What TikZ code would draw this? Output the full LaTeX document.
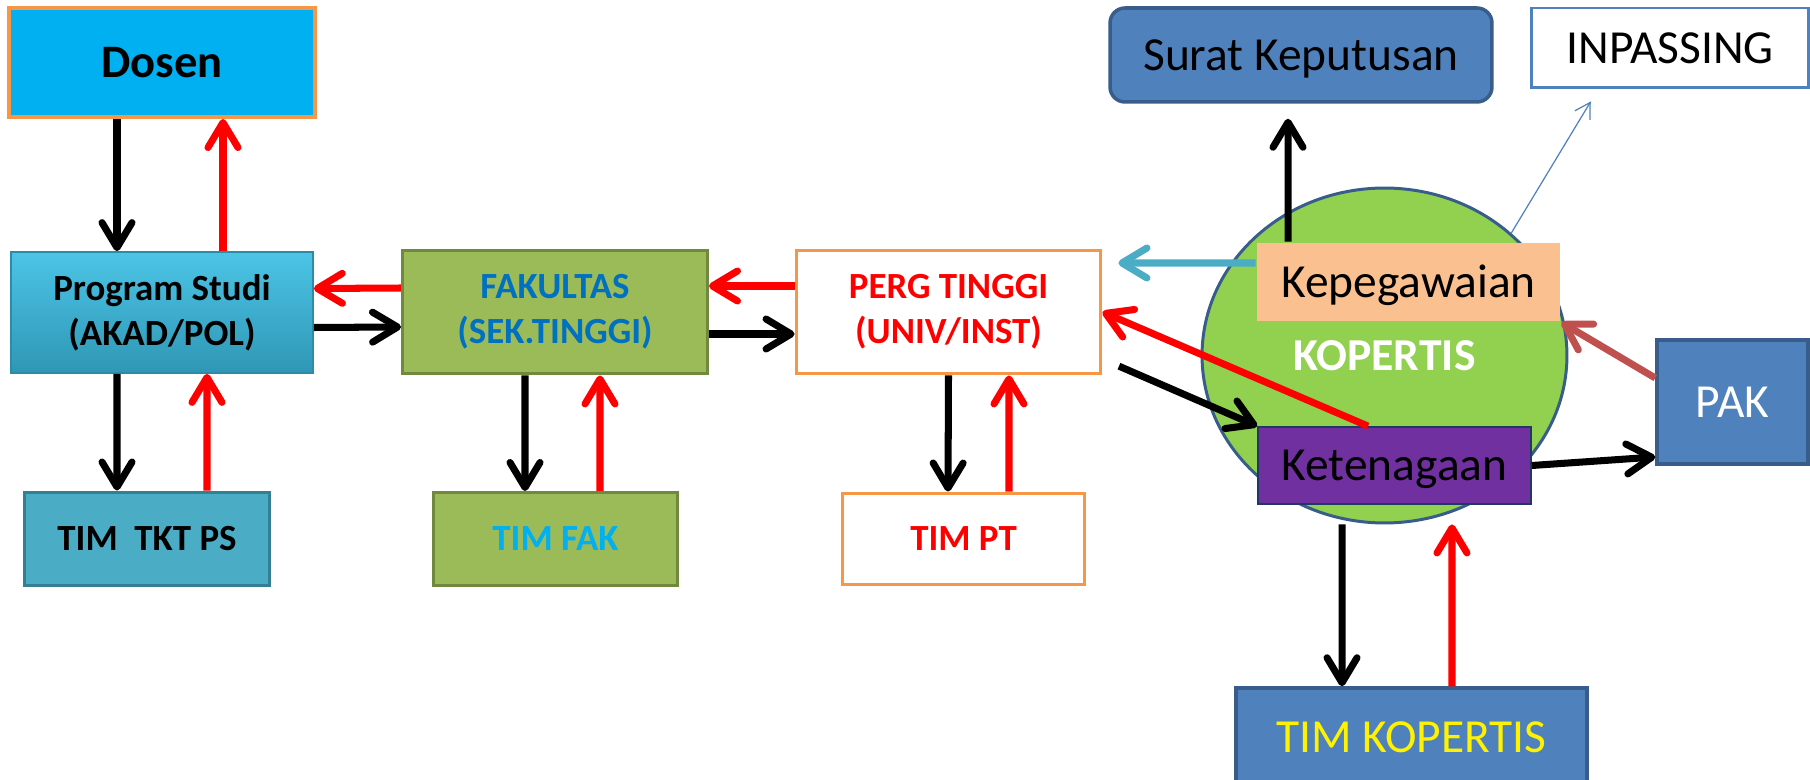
\documentclass[tikz,border=0pt]{standalone}
\usepackage{fontspec}
\setmainfont{Carlito}
\usetikzlibrary{arrows.meta,shapes.geometric,shadings}

\definecolor{orangeline}{HTML}{F79646}
\definecolor{dosenblue}{HTML}{00B0F0}
\definecolor{proditop}{HTML}{4CC4E6}
\definecolor{prodibot}{HTML}{2F97B5}
\definecolor{prodiline}{HTML}{2C8CA8}
\definecolor{timpsfill}{HTML}{4BACC6}
\definecolor{timpsline}{HTML}{357F93}
\definecolor{fakfill}{HTML}{9BBB59}
\definecolor{fakline}{HTML}{71893F}
\definecolor{fakblue}{HTML}{0070C0}
\definecolor{kopblue}{HTML}{4F81BD}
\definecolor{kopline}{HTML}{385D8A}
\definecolor{kopgreen}{HTML}{92D050}
\definecolor{peach}{HTML}{FAC090}
\definecolor{ketpurple}{HTML}{7030A0}
\definecolor{ketline}{HTML}{203864}
\definecolor{pakred}{HTML}{C0504D}

\begin{document}
\begin{tikzpicture}[x=0.02cm, y=-0.02cm,
        box/.style={rectangle, draw, line width=1.7pt, inner sep=0pt},
        two/.style={align=center, font=\fontsize{21}{25.6}\selectfont\bfseries},
        small/.style={font=\fontsize{21}{25}\selectfont\bfseries, text height=13.5pt, text depth=0pt},
        big/.style={font=\fontsize{27}{32}\selectfont, text height=17.4pt, text depth=0pt},
        arr/.style={line width=4pt, -{Straight Barb[length=5mm, width=6mm, round]}},
        blk/.style={arr, draw=black},
        rd/.style={arr, draw=red},
        thinarr/.style={draw=kopblue, line width=0.7pt, -{Straight Barb[length=3mm, width=3.5mm]}},
        ]
        \useasboundingbox (0,0) rectangle (1810,780);

        % Left chain: Dosen, Program Studi, Fakultas, Perg Tinggi
        \node[box, draw=orangeline, line width=2.3pt, fill=dosenblue, minimum width=6.12cm, minimum height=2.18cm,
            font=\fontsize{26.5}{30}\selectfont\bfseries, text height=17.1pt, text depth=0pt] (dosen) at (162,62.5) {Dosen};
        \node[box, draw=prodiline, line width=1pt, top color=proditop, bottom color=prodibot,
            minimum width=6.04cm, minimum height=2.42cm, two] (prodi) at (162,312.5) {Program Studi\\(AKAD/POL)};
        \node[box, draw=timpsline, fill=timpsfill, minimum width=4.92cm, minimum height=1.88cm, small] (timps) at (147,539) {TIM\ \ TKT PS};
        \node[box, draw=fakline, fill=fakfill, minimum width=6.1cm, minimum height=2.48cm, two, text=fakblue] (fak) at (555,312) {FAKULTAS\\(SEK.TINGGI)};
        \node[box, draw=fakline, fill=fakfill, minimum width=4.9cm, minimum height=1.86cm, small, text=dosenblue] (timfak) at (555.5,539) {TIM FAK};
        \node[box, draw=orangeline, fill=white, minimum width=6.1cm, minimum height=2.48cm, two, text=red] (pt) at (948.5,312) {PERG TINGGI\\(UNIV/INST)};
        \node[box, draw=orangeline, fill=white, minimum width=4.86cm, minimum height=1.84cm, small, text=red] (timpt) at (963.5,539) {TIM PT};

        % Kopertis side
        \node[box, draw=kopline, line width=2pt, fill=kopblue, rounded corners=0.3cm, minimum width=7.64cm, minimum height=1.88cm, big] (surat) at (1301,55) {Surat Keputusan};
        \node[box, draw=kopblue, fill=white, minimum width=5.56cm, minimum height=1.6cm, big] (inpas) at (1670,48) {INPASSING};
        \node[ellipse, draw=kopline, line width=1.7pt, fill=kopgreen, inner sep=0pt, minimum width=7.3cm, minimum height=6.7cm,
            text=white, font=\fontsize{26}{30}\selectfont\bfseries] (kop) at (1384.5,355.5) {KOPERTIS};
        \node[box, draw=none, fill=peach, minimum width=6.06cm, minimum height=1.56cm, big] (kepeg) at (1408.5,282) {Kepegawaian};
        \node[box, draw=ketline, line width=1pt, fill=ketpurple, minimum width=5.46cm, minimum height=1.54cm, big] (keten) at (1394.5,465.5) {Ketenagaan};
        \node[box, draw=kopline, line width=2pt, fill=kopblue, minimum width=3.02cm, minimum height=2.48cm, big, text=white] (pak) at (1732.5,402) {PAK};
        \node[box, draw=kopline, line width=2pt, fill=kopblue, minimum width=7.02cm, minimum height=1.96cm, big, text=yellow] (tkop) at (1411.5,737) {TIM KOPERTIS};

        % Vertical pairs: black down, red back up
        \foreach \hi/\lo/\ba/\bb/\ra/\rb in {dosen/prodi/-0.9/-0.9/1.22/1.22, prodi/timps/-0.9/-0.6/0.9/1.2,
            fak/timfak/-0.6/-0.61/0.9/0.89, pt/timpt/0/-0.31/1.21/0.91} {
            \draw[blk] ([xshift=\ba cm]\hi.south) -- ([xshift=\bb cm]\lo.north);
            \draw[rd] ([xshift=\rb cm]\lo.north) -- ([xshift=\ra cm]\hi.south);
        }

        % Horizontal pairs
        \draw[rd] ([yshift=0.48cm]fak.west) -- ([yshift=0.48cm]prodi.east);
        \draw[blk] ([yshift=-0.3cm]prodi.east) -- ([yshift=-0.3cm]fak.west);
        \draw[rd] ([yshift=0.52cm]pt.west) -- ([yshift=0.52cm]fak.east);
        \draw[blk] ([yshift=-0.44cm]fak.east) -- ([yshift=-0.44cm]pt.west);

        % Arrows around Kopertis
        \draw[blk, shorten >=0.3cm] ([xshift=-2.41cm]kepeg.north) -- ([xshift=-0.26cm]surat.south);
        \draw[arr, draw=timpsfill, shorten >=0.32cm] ([yshift=0.38cm]kepeg.west) -- ([yshift=0.98cm]pt.east);
        \draw[thinarr, shorten >=0.28cm] (kop.44) -- ([xshift=-1.44cm]inpas.south);
        \draw[rd] ([xshift=-0.53cm]keten.north) -- (pt.east);
        \draw[blk, shorten <=0.36cm] ([yshift=-0.94cm]pt.east) -- (keten.north west);
        \draw[arr, draw=pakred] ([yshift=0.48cm]pak.west) -- (kepeg.south east);
        \draw[blk] (keten.east) -- ([yshift=-1.1cm]pak.west);
        \draw[blk] ([xshift=-0.85cm]kop.south) -- ([xshift=-1.39cm]tkop.north);
        \draw[rd] ([xshift=0.81cm]tkop.north) -- ([xshift=1.35cm]kop.south);

\end{tikzpicture}
\end{document}
